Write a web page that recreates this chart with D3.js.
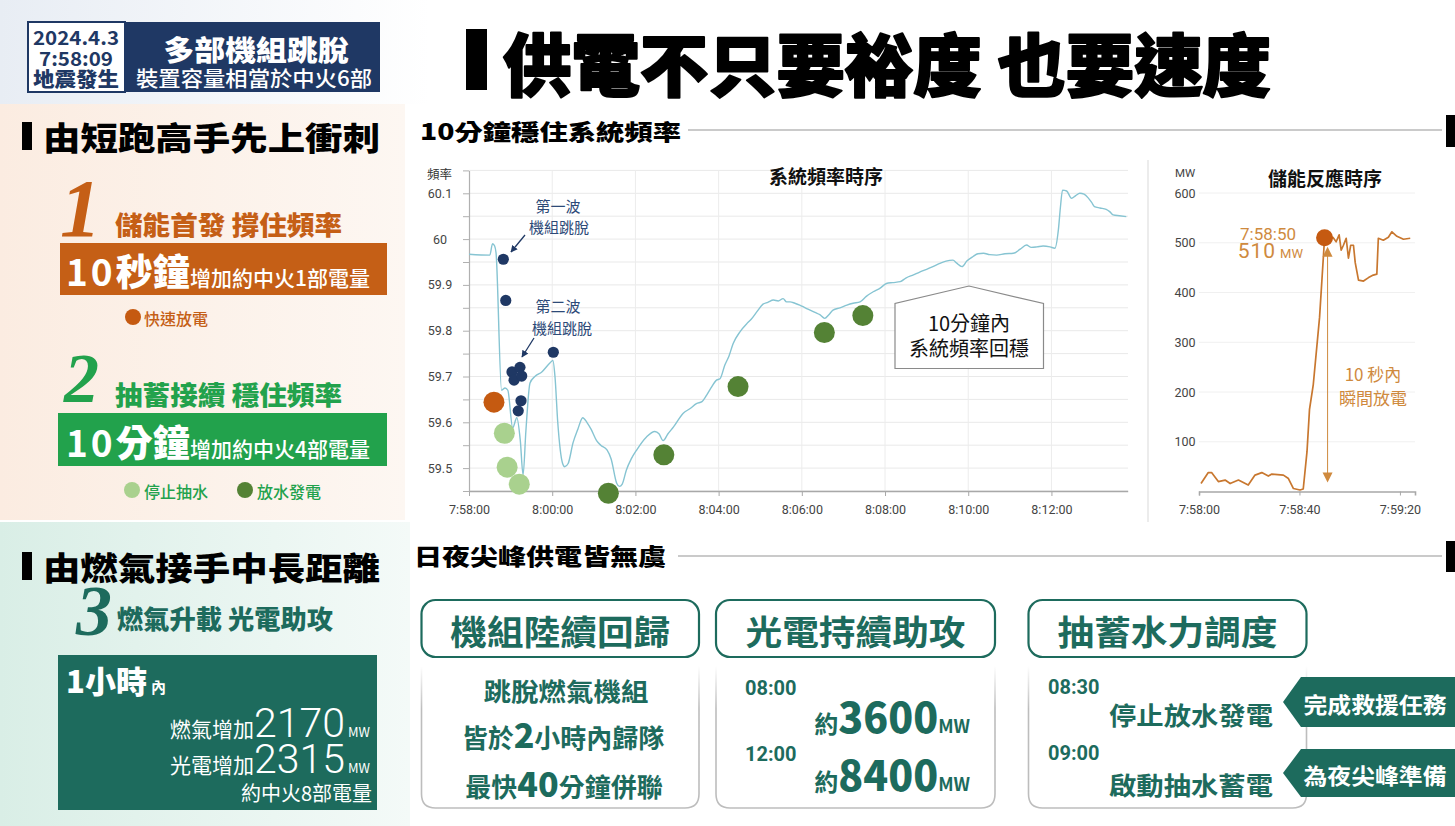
<!DOCTYPE html>
<html>
<head>
<meta charset="utf-8">
<script src="https://cdn.jsdelivr.net/npm/d3@7"></script>
<style>
html,body{margin:0;padding:0;background:#fff;}
svg{display:block;font-family:"Noto Sans CJK TC","Noto Sans CJK SC",sans-serif;}
</style>
</head>
<body>
<svg id="board" width="1455" height="826"></svg>
<script>
// ---------- system frequency after the 7:58:09 earthquake (seconds after 7:58:00, Hz) ----------
const freqSeconds = [0,30,34,37,39,47,52,56,63,69,74,78,82,88,95,105,117,121,124,128,
  135,138,143,150,157,164,170,176,184,190,199,205,213,217,221,227,234,242,256,268,
  274,280,287,295,309,319,328,336,343,349,357,362,369,375,381,391,401,407,415,424,
  431,439,446,453,458,463,470,477,485,492,499,506,513,519,525,535,545,554,564,573,
  583,593,602,611,622,630,641,650,660,669,679,688,698,703,711,718,727,734,742,751,
  761,773,785,795,804,811,819,828,838,845,850,853,856,862,869,875,881,887,893,898,
  902,910,919,924,929,938,948];
const freqValues = [59.967,59.965,59.99,59.985,59.97,59.67,59.675,59.67,59.588,59.61,
  59.56,59.485,59.58,59.686,59.70,59.71,59.73,59.735,59.70,59.6,
  59.51,59.503,59.51,59.555,59.585,59.61,59.60,59.585,59.56,59.55,
  59.54,59.52,59.467,59.46,59.465,59.496,59.52,59.54,59.568,59.58,
  59.575,59.56,59.575,59.59,59.62,59.63,59.641,59.645,59.66,59.675,
  59.692,59.695,59.725,59.745,59.772,59.798,59.816,59.825,59.841,59.858,
  59.862,59.867,59.865,59.87,59.863,59.863,59.86,59.856,59.85,59.845,
  59.84,59.835,59.827,59.835,59.845,59.85,59.856,59.86,59.863,59.875,
  59.885,59.893,59.903,59.905,59.907,59.915,59.922,59.928,59.934,59.94,
  59.947,59.952,59.954,59.948,59.94,59.952,59.962,59.968,59.969,59.966,
  59.965,59.968,59.969,59.978,59.987,59.982,59.983,59.985,59.983,59.98,
  60.02,60.07,60.107,60.105,60.089,60.095,60.10,60.098,60.09,60.08,
  60.071,60.068,60.065,60.06,60.053,60.051,60.049];

// unit trips (navy), battery discharge (orange), pump stop (light green), hydro release (dark green)
const tripSeconds = [49.5,53,62,65,73.5,76,75,71,121.6];
const tripValues  = [59.956,59.866,59.71,59.692,59.72,59.701,59.647,59.625,59.753];
const batterySeconds = [36];
const batteryValues  = [59.644];
const pumpStopSeconds = [51,55,72.5];
const pumpStopValues  = [59.576,59.502,59.465];
const hydroSeconds = [201,281,388,512.5,568];
const hydroValues  = [59.445,59.529,59.678,59.796,59.833];

const freqXTicks = ["7:58:00","8:00:00","8:02:00","8:04:00","8:06:00","8:08:00","8:10:00","8:12:00"];
const freqYTicks = [59.5,59.6,59.7,59.8,59.9,60,60.1];
const freqGridValues = [59.45,59.5,59.55,59.6,59.65,59.7,59.75,59.8,59.85,59.9,59.95,60,60.05,60.1,60.15];

// ---------- energy storage output (seconds after 7:58:00, MW) ----------
const esSeconds = [0.8,3.7,5,7.7,10.4,12.4,15.7,19.6,22.3,25,27.6,29,33.6,35.6,37.6,40.2,41.5,43,44,45.5,
  48,50,51.5,53.3,54.6,55.8,56.6,57.5,58.6,59.5,60.4,61.5,62.2,63.5,65.5,67.5,69.4,70.8,71.4,73.4,
  75.4,76.8,78.8,81.4,84.1];
const esValues = [16,38,38,20,23,16,23,13,33,38,31,35,33,26,6,3,5,80,165,215,
  350,510,505,511,502,516,485,495,509,469,495,495,460,425,423,430,435,437,509,505,
  511,522,513,507,509];
const esPeakTime = "7:58:50";
const esPeakValue = 510;
const esYTicks = [100,200,300,400,500,600];
const esXTicks = ["7:58:00","7:58:40","7:59:20"];

// ---------- helpers ----------
const clock = s => { const [h,m,sec] = s.split(":").map(Number); return new Date(2024,3,3,h,m,sec); };
const start = clock("7:58:00");
const at = s => new Date(start.getTime() + s*1000);

const NAVY = "#1f3864", ORANGE = "#c55f16", GREEN = "#22a24c", TEAL = "#1d6b5d";
const LIGHTG = "#a9d18e", DARKG = "#548235", ESCOL = "#cf8a3e";

const svg = d3.select("#board");
const defs = svg.append("defs");

function grad(id, c1, c2, vertical) {
  const g = defs.append("linearGradient").attr("id", id)
    .attr("x1",0).attr("y1",0).attr("x2", vertical?0:1).attr("y2", vertical?1:0);
  g.append("stop").attr("offset","0%").attr("stop-color",c1);
  g.append("stop").attr("offset","100%").attr("stop-color",c2);
}
grad("topBg", "#e8edf4", "#ffffff", false);
grad("peachBg", "#fbece1", "#fdf7f2", false);
grad("mintBg", "#d9eee6", "#f4faf8", false);
{
  const g = defs.append("linearGradient").attr("id","frameFade").attr("x1",0).attr("y1",0).attr("x2",0).attr("y2",1);
  g.append("stop").attr("offset","0%").attr("stop-color","#bdbdbd").attr("stop-opacity",0);
  g.append("stop").attr("offset","30%").attr("stop-color","#bdbdbd").attr("stop-opacity",1);
  g.append("stop").attr("offset","100%").attr("stop-color","#bdbdbd").attr("stop-opacity",1);
}
defs.append("marker").attr("id","navyArrow").attr("viewBox","0 0 10 10")
  .attr("refX",9).attr("refY",5).attr("markerWidth",7).attr("markerHeight",7)
  .attr("markerUnits","userSpaceOnUse").attr("orient","auto")
  .append("path").attr("d","M0,0 L10,5 L0,10 z").attr("fill",NAVY);

function text(g, x, y, s, o = {}) {
  const t = g.append("text").attr("x", x).attr("y", y).text(s)
    .attr("font-size", o.size || 14)
    .attr("font-weight", o.weight || 400)
    .attr("fill", o.fill || "#222")
    .attr("text-anchor", o.anchor || "start")
    .attr("dominant-baseline", o.baseline || "central");
  if (o.family) t.attr("font-family", o.family);
  if (o.len) t.attr("textLength", o.len).attr("lengthAdjust", "spacingAndGlyphs");
  if (o.stroke) t.attr("stroke", o.fill || "#222").attr("stroke-width", o.stroke).attr("stroke-linejoin","round");
  if (o.style) t.attr("font-style", o.style);
  return t;
}

// ---------- backgrounds ----------
svg.append("rect").attr("x",0).attr("y",0).attr("width",1455).attr("height",826).attr("fill","#fff");
svg.append("rect").attr("x",0).attr("y",0).attr("width",430).attr("height",104).attr("fill","url(#topBg)");
svg.append("rect").attr("x",0).attr("y",104).attr("width",405).attr("height",416).attr("fill","url(#peachBg)");
svg.append("rect").attr("x",0).attr("y",522).attr("width",410).attr("height",304).attr("fill","url(#mintBg)");

// ---------- header ----------
const head = svg.append("g");
head.append("rect").attr("x",28).attr("y",22).attr("width",97).attr("height",70)
  .attr("fill","#fff").attr("stroke",NAVY).attr("stroke-width",2);
head.append("rect").attr("x",125).attr("y",22).attr("width",255).attr("height",70).attr("fill",NAVY);
text(head, 76, 36, "2024.4.3", {size:19, weight:700, fill:NAVY, anchor:"middle", len:86});
text(head, 76, 57, "7:58:09", {size:19, weight:700, fill:NAVY, anchor:"middle", len:74});
text(head, 76, 78, "地震發生", {size:20, weight:900, fill:NAVY, anchor:"middle", len:86});
text(head, 256, 49, "多部機組跳脫", {size:28, weight:900, fill:"#fff", anchor:"middle", len:185});
text(head, 254, 77, "裝置容量相當於中火6部", {size:21, weight:500, fill:"#fff", anchor:"middle", len:236});

head.append("rect").attr("x",466).attr("y",29).attr("width",21).attr("height",61).attr("fill","#000");
text(head, 503, 61, "供電不只要裕度 也要速度", {size:68, weight:900, fill:"#000", len:768, stroke:2});

// section headings
function heading(x, y, label, len, size) {
  head.append("rect").attr("x",x).attr("y",y-14).attr("width",10).attr("height",28).attr("fill","#000");
  text(head, x+21, y, label, {size:size, weight:900, fill:"#000", len:len});
}
heading(22, 136, "由短跑高手先上衝刺", 337, 32);
heading(22, 566, "由燃氣接手中長距離", 337, 32);
text(head, 420, 130, "10分鐘穩住系統頻率", {size:22, weight:900, fill:"#000", len:261});
text(head, 414, 555, "日夜尖峰供電皆無虞", {size:23, weight:900, fill:"#000", len:252});
head.append("line").attr("x1",688).attr("x2",1442).attr("y1",130).attr("y2",130).attr("stroke","#b8b8b8").attr("stroke-width",1.4);
head.append("rect").attr("x",1446).attr("y",115).attr("width",9).attr("height",32).attr("fill","#000");
head.append("line").attr("x1",678).attr("x2",1442).attr("y1",556).attr("y2",556).attr("stroke","#b8b8b8").attr("stroke-width",1.4);
head.append("rect").attr("x",1446).attr("y",541).attr("width",9).attr("height",31).attr("fill","#000");

// ---------- left panel: steps 1 & 2 ----------
const left = svg.append("g");
text(left, 60, 236, "1", {size:82, weight:700, style:"italic", fill:ORANGE, family:"Liberation Serif", baseline:"alphabetic"});
text(left, 115, 223, "儲能首發 撐住頻率", {size:26, weight:900, fill:ORANGE, len:227});
left.append("rect").attr("x",60).attr("y",243).attr("width",327).attr("height",52).attr("fill",ORANGE);
{
  const t = left.append("text").attr("x",66).attr("y",286).attr("fill","#fff");
  t.append("tspan").attr("font-size",37).attr("font-weight",700).attr("letter-spacing",3).text("10");
  t.append("tspan").attr("font-size",37).attr("font-weight",900).text("秒鐘");
  t.append("tspan").attr("x",190).attr("font-size",21).attr("font-weight",500).text("增加約中火1部電量");
}
left.append("circle").attr("cx",133).attr("cy",317).attr("r",8).attr("fill","#c55a11");
text(left, 144, 318, "快速放電", {size:16, weight:500, fill:ORANGE});

text(left, 64, 402, "2", {size:70, weight:700, style:"italic", fill:GREEN, family:"Liberation Serif", baseline:"alphabetic"});
text(left, 115, 393, "抽蓄接續 穩住頻率", {size:26, weight:900, fill:GREEN, len:227});
left.append("rect").attr("x",58).attr("y",413).attr("width",329).attr("height",53).attr("fill",GREEN);
{
  const t = left.append("text").attr("x",66).attr("y",457).attr("fill","#fff");
  t.append("tspan").attr("font-size",37).attr("font-weight",700).attr("letter-spacing",3).text("10");
  t.append("tspan").attr("font-size",37).attr("font-weight",900).text("分鐘");
  t.append("tspan").attr("x",190).attr("font-size",21).attr("font-weight",500).text("增加約中火4部電量");
}
left.append("circle").attr("cx",132).attr("cy",490).attr("r",8).attr("fill",LIGHTG);
text(left, 144, 491, "停止抽水", {size:16, weight:500, fill:GREEN});
left.append("circle").attr("cx",245).attr("cy",490).attr("r",8).attr("fill",DARKG);
text(left, 257, 491, "放水發電", {size:16, weight:500, fill:GREEN});

// ---------- left panel: step 3 ----------
const gasIncreaseMW = 2170, solarIncreaseMW = 2315;
text(left, 76, 635, "3", {size:72, weight:700, style:"italic", fill:TEAL, family:"Liberation Serif", baseline:"alphabetic"});
text(left, 117, 617, "燃氣升載 光電助攻", {size:26, weight:900, fill:TEAL, len:216});
left.append("rect").attr("x",58).attr("y",655).attr("width",319).attr("height",155).attr("fill",TEAL);
{
  const t = left.append("text").attr("x",66).attr("y",693).attr("fill","#fff");
  t.append("tspan").attr("font-size",31).attr("font-weight",900).text("1小時");
  t.append("tspan").attr("dx",4).attr("font-size",15).attr("font-weight",700).text("內");
}
function bigFigure(y, label, value) {
  const t = left.append("text").attr("x",370).attr("y",y).attr("fill","#fff").attr("text-anchor","end");
  t.append("tspan").attr("font-size",21).attr("font-weight",400).text(label);
  t.append("tspan").attr("font-size",41).attr("font-weight",300).attr("font-family","Roboto, sans-serif").text(value);
  t.append("tspan").attr("dx",3).attr("font-size",13).attr("font-weight",400).text("MW");
}
bigFigure(737, "燃氣增加", gasIncreaseMW);
bigFigure(773, "光電增加", solarIncreaseMW);
text(left, 372, 792, "約中火8部電量", {size:20, weight:400, fill:"#fff", anchor:"end"});

// ---------- system frequency chart ----------
const fc = svg.append("g");
const fx = d3.scaleTime().domain([at(0), at(950)]).range([469, 1127.7]);
const fy = d3.scaleLinear().domain([59.45, 60.15]).range([491, 170.4]);

fc.append("g").selectAll("line").data(freqGridValues).join("line")
  .attr("x1",469).attr("x2",1128).attr("y1",d=>fy(d)).attr("y2",d=>fy(d))
  .attr("stroke","#e9e9e9").attr("stroke-width",1);
fc.append("g").selectAll("line").data(freqXTicks.slice(1)).join("line")
  .attr("x1",d=>fx(clock(d))).attr("x2",d=>fx(clock(d))).attr("y1",170).attr("y2",491)
  .attr("stroke","#ececec").attr("stroke-width",1);

const fxAxis = fc.append("g").attr("transform","translate(0,491)")
  .call(d3.axisBottom(fx).tickValues(freqXTicks.map(clock)).tickFormat(d3.timeFormat("%-H:%M:%S"))
    .tickSize(5).tickSizeOuter(0).tickPadding(9));
fxAxis.select(".domain").attr("stroke","#a8a8a8").attr("stroke-width",1.4);
fxAxis.selectAll(".tick line").attr("stroke","#a8a8a8");
fxAxis.selectAll("text").attr("font-size",12.5).attr("fill","#444").attr("font-family","Roboto, sans-serif");

const fyAxis = fc.append("g").attr("transform","translate(469,0)")
  .call(d3.axisLeft(fy).tickValues(freqGridValues)
    .tickFormat(d => freqYTicks.includes(d) ? String(d) : "").tickSize(6).tickSizeOuter(0).tickPadding(4));
fyAxis.select(".domain").attr("stroke","#b0b0b0").attr("stroke-width",1.2);
fyAxis.selectAll(".tick line").attr("stroke","#b0b0b0");
fyAxis.selectAll("text").attr("x",-29).attr("text-anchor","middle")
  .attr("font-size",12.5).attr("fill","#444").attr("font-family","Roboto, sans-serif");
text(fc, 427, 173, "頻率", {size:12.5, fill:"#333"});
text(fc, 826, 175, "系統頻率時序", {size:19, weight:700, fill:"#111", anchor:"middle"});

const freqLine = d3.line().x(d=>fx(at(d[0]))).y(d=>fy(d[1])).curve(d3.curveMonotoneX);
fc.append("path").datum(d3.zip(freqSeconds, freqValues)).attr("d", freqLine)
  .attr("fill","none").attr("stroke","#86c4d2").attr("stroke-width",1.4);

function dots(sec, val, r, color) {
  fc.append("g").selectAll("circle").data(d3.zip(sec, val)).join("circle")
    .attr("cx",d=>fx(at(d[0]))).attr("cy",d=>fy(d[1])).attr("r",r).attr("fill",color);
}
dots(batterySeconds, batteryValues, 10.5, "#c55a11");
dots(pumpStopSeconds, pumpStopValues, 10.5, LIGHTG);
dots(hydroSeconds, hydroValues, 10.5, DARKG);
dots(tripSeconds, tripValues, 5.6, NAVY);

// trip wave labels
text(fc, 558, 205, "第一波", {size:15, fill:"#2d4a78", anchor:"middle"});
text(fc, 559, 226, "機組跳脫", {size:15, fill:"#2d4a78", anchor:"middle"});
text(fc, 558, 305, "第二波", {size:15, fill:"#2d4a78", anchor:"middle"});
text(fc, 562, 327, "機組跳脫", {size:15, fill:"#2d4a78", anchor:"middle"});
fc.append("line").attr("x1",525).attr("y1",235).attr("x2",511).attr("y2",252)
  .attr("stroke",NAVY).attr("stroke-width",1.3).attr("marker-end","url(#navyArrow)");
fc.append("line").attr("x1",534).attr("y1",338).attr("x2",522).attr("y2",357)
  .attr("stroke",NAVY).attr("stroke-width",1.3).attr("marker-end","url(#navyArrow)");

// recovery callout
fc.append("path").attr("d","M895,368.5 V303.5 L969,286 L1043.5,303.5 V368.5 Z")
  .attr("fill","#fff").attr("stroke","#8a8a8a").attr("stroke-width",1.2);
text(fc, 969, 322, "10分鐘內", {size:20, fill:"#111", anchor:"middle"});
text(fc, 969, 347, "系統頻率回穩", {size:20, fill:"#111", anchor:"middle"});

// divider
svg.append("line").attr("x1",1148).attr("x2",1148).attr("y1",160).attr("y2",522).attr("stroke","#e0e0e0").attr("stroke-width",1.2);

// ---------- energy storage chart ----------
const ec = svg.append("g");
const ex = d3.scaleTime().domain([at(0), at(86)]).range([1199, 1415]);
const ey = d3.scaleLinear().domain([0, 600]).range([491.5, 193]);

ec.append("g").selectAll("line").data(esYTicks).join("line")
  .attr("x1",1199).attr("x2",1415).attr("y1",d=>ey(d)).attr("y2",d=>ey(d))
  .attr("stroke","#f0f0f0").attr("stroke-width",1);
ec.append("g").selectAll("text").data(esYTicks).join("text")
  .attr("x",1185).attr("y",d=>ey(d)).attr("text-anchor","middle").attr("dominant-baseline","central")
  .attr("font-size",12.5).attr("fill","#444").attr("font-family","Roboto, sans-serif").text(d=>d);
text(ec, 1185, 173, "MW", {size:11.5, fill:"#444", anchor:"middle", family:"Roboto, sans-serif"});
text(ec, 1325, 177, "儲能反應時序", {size:19, weight:700, fill:"#111", anchor:"middle"});

const exAxis = ec.append("g").attr("transform","translate(0,491.5)")
  .call(d3.axisBottom(ex).tickValues(esXTicks.map(clock)).tickFormat(d3.timeFormat("%-H:%M:%S"))
    .tickSize(4).tickSizeOuter(4).tickPadding(10));
exAxis.select(".domain").attr("stroke","#a8a8a8").attr("stroke-width",1.6);
exAxis.selectAll(".tick line").attr("stroke","#a8a8a8");
exAxis.selectAll("text").attr("font-size",12.5).attr("fill","#444").attr("font-family","Roboto, sans-serif");

const esLine = d3.line().x(d=>ex(at(d[0]))).y(d=>ey(d[1]));
ec.append("path").datum(d3.zip(esSeconds, esValues)).attr("d", esLine)
  .attr("fill","none").attr("stroke","#c8772f").attr("stroke-width",1.7).attr("stroke-linejoin","round");

const peakX = ex(clock(esPeakTime)), peakY = ey(esPeakValue);
ec.append("circle").attr("cx",peakX).attr("cy",peakY).attr("r",8.5).attr("fill","#c55a11");
text(ec, 1296, 234, esPeakTime, {size:17, fill:ESCOL, anchor:"end", family:"Roboto, sans-serif"});
{
  const t = ec.append("text").attr("x",1303).attr("y",258).attr("text-anchor","end").attr("fill",ESCOL);
  t.append("tspan").attr("font-size",21).attr("letter-spacing",1).attr("font-family","Roboto, sans-serif").text(esPeakValue);
  t.append("tspan").attr("dx",4).attr("font-size",13).attr("font-family","Roboto, sans-serif").text("MW");
}
// 10-second rise arrow
const arrX = peakX + 3;
ec.append("line").attr("x1",arrX).attr("x2",arrX).attr("y1",ey(esPeakValue)+12).attr("y2",ey(0)-12)
  .attr("stroke",ESCOL).attr("stroke-width",1);
ec.append("path").attr("d",`M${arrX},${ey(esPeakValue)+9} l-5,10 h10 z`).attr("fill",ESCOL);
ec.append("path").attr("d",`M${arrX},${ey(0)-9} l-5,-10 h10 z`).attr("fill",ESCOL);
text(ec, 1373, 373, "10 秒內", {size:17, fill:ESCOL, anchor:"middle"});
text(ec, 1373, 397, "瞬間放電", {size:17, fill:ESCOL, anchor:"middle"});

// ---------- bottom cards ----------
const cards = svg.append("g");
function card(x, w, title) {
  cards.append("rect").attr("x",x).attr("y",600).attr("width",w).attr("height",57).attr("rx",14)
    .attr("fill","#fff").attr("stroke",TEAL).attr("stroke-width",2.2);
  text(cards, x + w/2, 630, title, {size:34, weight:700, fill:TEAL, anchor:"middle", len:220});
  const x1 = x + w;
  cards.append("path")
    .attr("d",`M${x},666 V794 Q${x},808 ${x+14},808 H${x1-14} Q${x1},808 ${x1},794 V666`)
    .attr("fill","none").attr("stroke","url(#frameFade)").attr("stroke-width",1.6);
}
card(421.5, 277.5, "機組陸續回歸");
card(716, 279, "光電持續助攻");
card(1028.5, 278, "抽蓄水力調度");

text(cards, 566, 690, "跳脫燃氣機組", {size:25, weight:700, fill:TEAL, anchor:"middle", len:165});
function mixed(x, y, parts, anchor) {
  const t = cards.append("text").attr("x",x).attr("y",y).attr("fill",TEAL).attr("text-anchor",anchor || "middle");
  parts.forEach(p => t.append("tspan").attr("font-size",p[1]).attr("font-weight",p[2]).text(p[0]));
  return t;
}
mixed(563, 748, [["皆於",26,700],["2",34,900],["小時內歸隊",26,700]]);
mixed(564, 797, [["最快",26,700],["40",34,900],["分鐘併聯",26,700]]);

const solarMW = [3600, 8400];
text(cards, 745, 688, "08:00", {size:20, weight:700, fill:TEAL, family:"Roboto, sans-serif"});
mixed(970, 733, [["約",24,700],[solarMW[0],41,900],["MW",18,700]], "end");
text(cards, 745, 754, "12:00", {size:20, weight:700, fill:TEAL, family:"Roboto, sans-serif"});
mixed(970, 791, [["約",24,700],[solarMW[1],41,900],["MW",18,700]], "end");

text(cards, 1048, 687, "08:30", {size:20, weight:700, fill:TEAL, family:"Roboto, sans-serif"});
text(cards, 1273, 714, "停止放水發電", {size:25, weight:700, fill:TEAL, anchor:"end", len:164});
text(cards, 1048, 753, "09:00", {size:20, weight:700, fill:TEAL, family:"Roboto, sans-serif"});
text(cards, 1273, 784, "啟動抽水蓄電", {size:25, weight:700, fill:TEAL, anchor:"end", len:164});

function tag(y0, y1, label) {
  const mid = (y0 + y1) / 2;
  cards.append("path").attr("d",`M1301,${y0} H1455 V${y1} H1301 L1283,${mid} Z`).attr("fill",TEAL);
  text(cards, 1375, mid + 1, label, {size:22, weight:700, fill:"#fff", anchor:"middle", len:143});
}
tag(677, 727, "完成救援任務");
tag(749, 797, "為夜尖峰準備");
</script>
</body>
</html>
